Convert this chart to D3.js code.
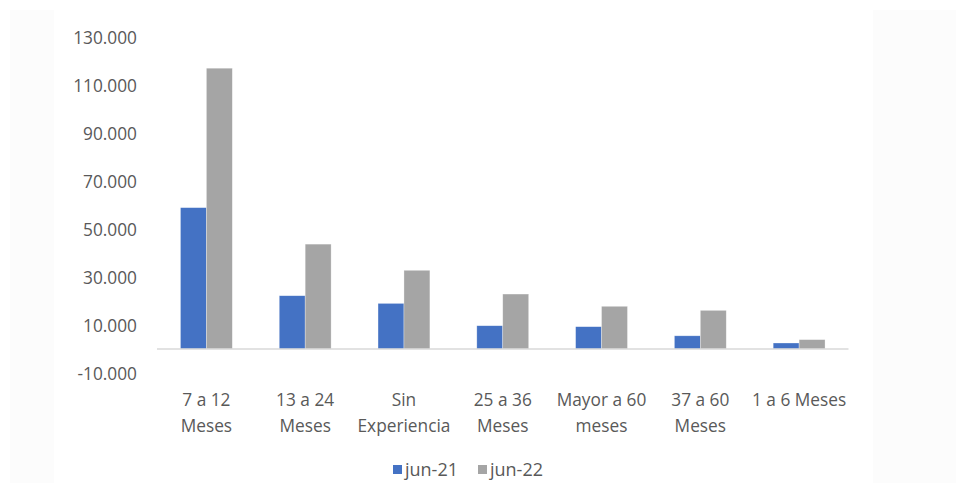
<!DOCTYPE html>
<html>
<head>
<meta charset="utf-8">
<script src="https://cdn.jsdelivr.net/npm/d3@7"></script>
<style>
  body { margin: 0; background: #fff; }
  text { font-family: "Open Sans", sans-serif; fill: #595959; }
</style>
</head>
<body>
<div id="chart"></div>
<script>
var categories = [['7 a 12', 'Meses'], ['13 a 24', 'Meses'], ['Sin', 'Experiencia'], ['25 a 36', 'Meses'],
                  ['Mayor a 60', 'meses'], ['37 a 60', 'Meses'], ['1 a 6 Meses']];
var jun21 = [58900, 22200, 19000, 9700, 9300, 5500, 2500];
var jun22 = [117000, 43700, 32800, 22900, 17800, 16100, 3900];
var seriesNames = ['jun-21', 'jun-22'];
var yTicks = [-10000, 10000, 30000, 50000, 70000, 90000, 110000, 130000];

var width = 956, height = 483;
var colors = ['#4472c4', '#a5a5a5'];
var fontSize = '17.3px';

var svg = d3.select('#chart').append('svg')
  .attr('width', width)
  .attr('height', height);

// faint page panels
svg.append('rect').attr('x', 10).attr('y', 10).attr('width', 44).attr('height', 473).attr('fill', '#fcfcfc');
svg.append('rect').attr('x', 873).attr('y', 10).attr('width', 83).attr('height', 473).attr('fill', '#fcfcfc');

var x = d3.scaleBand()
  .domain(d3.range(categories.length))
  .range([157, 848.5])
  .paddingInner(0.475)
  .paddingOuter(0.2375);

var y = d3.scaleLinear()
  .domain([-10000, 130000])
  .range([373, 37]);

// spanish style numbers: 130.000, plain hyphen for minus
var locale = d3.formatLocale({decimal: ',', thousands: '.', grouping: [3], currency: ['$', ''], minus: '-'});
var fmt = locale.format(',.0f');

var yAxis = d3.axisLeft(y)
  .tickValues(yTicks)
  .tickSize(0)
  .tickPadding(0)
  .tickFormat(fmt);

var gy = svg.append('g')
  .attr('transform', 'translate(137,0)')
  .call(yAxis);
gy.select('.domain').remove();
gy.selectAll('text')
  .style('font-size', fontSize)
  .attr('fill', '#595959')
  .attr('dy', '0.36em');

// bars
var data = [];
categories.forEach(function(c, i) {
  data.push({ i: i, s: 0, v: jun21[i] });
  data.push({ i: i, s: 1, v: jun22[i] });
});

var bw = x.bandwidth() / 2;
svg.append('g').selectAll('rect')
  .data(data)
  .enter().append('rect')
    .attr('x', function(d) { return x(d.i) + d.s * bw; })
    .attr('y', function(d) { return y(d.v); })
    .attr('width', bw)
    .attr('height', function(d) { return y(0) - y(d.v); })
    .attr('fill', function(d) { return colors[d.s]; })
    .attr('stroke', '#fff')
    .attr('stroke-opacity', 0.5)
    .attr('stroke-width', 0.6);

// zero line
svg.append('line')
  .attr('x1', 157).attr('x2', 848.5)
  .attr('y1', y(0)).attr('y2', y(0))
  .attr('stroke', '#d9d9d9')
  .attr('stroke-width', 1.3);

// category labels
var xl = svg.append('g').selectAll('text')
  .data(categories)
  .enter().append('text')
    .attr('x', function(d, i) { return x(i) + x.bandwidth() / 2; })
    .attr('y', 406)
    .attr('text-anchor', 'middle')
    .style('font-size', fontSize);
xl.selectAll('tspan')
  .data(function(d) { return d; })
  .enter().append('tspan')
    .attr('x', function() { return d3.select(this.parentNode).attr('x'); })
    .attr('dy', function(d, j) { return j === 0 ? 0 : 26; })
    .text(function(d) { return d; });

// legend
var legend = svg.append('g').selectAll('g')
  .data(seriesNames)
  .enter().append('g')
    .attr('transform', function(d, i) { return 'translate(' + (393 + i * 85) + ',465)'; });
legend.append('rect')
  .attr('width', 9).attr('height', 9)
  .attr('fill', function(d, i) { return colors[i]; });
legend.append('text')
  .attr('x', 12).attr('y', 4.5).attr('dy', '0.36em')
  .style('font-size', '18px')
  .text(function(d) { return d; });
</script>
</body>
</html>
